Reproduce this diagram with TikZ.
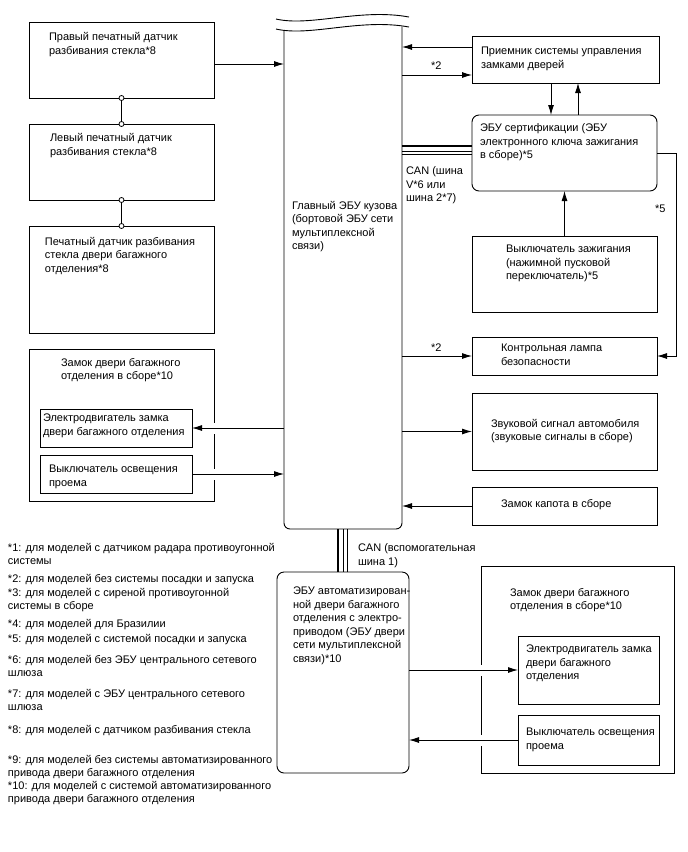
\documentclass[tikz,border=0pt]{standalone}
\usepackage{fontspec}
\setmainfont{Liberation Sans}
\usetikzlibrary{arrows.meta,calc}
\begin{document}
\begin{tikzpicture}[x=1pt,y=-1pt,
  box/.style={draw, line width=0.9pt, anchor=north west, inner sep=0pt, outer sep=0pt},
  rbox/.style={box, rounded corners=7pt},
  inv/.style={anchor=north west, inner sep=0pt, outer sep=0pt},
  txt/.style={anchor=north west, inner sep=0pt, outer sep=0pt, align=left, yshift=-3pt,
    font=\fontsize{11}{13.5}\selectfont, execute at begin node=\strut},
  arr/.style={line width=0.9pt, -{Latex[length=10pt,width=6pt]}},
  ln/.style={line width=0.9pt},
  dot/.style={circle, draw, fill=white, line width=0.8pt, inner sep=0pt, minimum size=5pt},
  gap/.style={draw=white, line width=3pt},
  thickbus/.style={line width=2pt},
  thinbus/.style={line width=0.8pt},
]
\useasboundingbox[fill=white] (0,0) rectangle (688,852);

% ---------- left sensors ----------
\node[box, minimum width=185, minimum height=76] (b1) at (29,22) {};
\node[box, minimum width=185, minimum height=76] (b2) at (29,124) {};
\node[box, minimum width=185, minimum height=107] (b3) at (29,226) {};
\node[txt] (t1) at (49,29.5) {Правый печатный датчик\\разбивания стекла*8};
\node[txt] (t2) at (50,130.5) {Левый печатный датчик\\разбивания стекла*8};
\node[txt] (t3) at (45,234) {Печатный датчик разбивания\\стекла двери багажного\\отделения*8};
\draw[ln] (b1.south) -- (b2.north);
\draw[ln] (b2.south) -- (b3.north);
\node[dot] (d1) at (b1.south) {};
\node[dot] (d2) at (b2.north) {};
\node[dot] (d3) at (b2.south) {};
\node[dot] (d4) at (b3.north) {};

% ---------- main ECU ----------
\node[inv, minimum width=118, minimum height=502] (main) at (284,27) {};
\draw[ln, rounded corners=6pt] (284,30.5) -- (284,529) -- (402,529) -- (402,26.5);
\draw[ln] (276,19) .. controls (310,27) and (360,8) .. (409,17);
\draw[ln] (276,29) .. controls (310,37) and (360,18) .. (409,27);
\node[txt] (tmain) at (292,198) {Главный ЭБУ кузова\\(бортовой ЭБУ сети\\мультиплексной\\связи)};

% ---------- right column ----------
\node[box, minimum width=187, minimum height=47] (rcv) at (472,36) {};
\node[txt] (trcv) at (481,44) {Приемник системы управления\\замками дверей};
\node[rbox, minimum width=185, minimum height=76] (cert) at (472,115) {};
\node[txt] (tcert) at (480,121) {ЭБУ сертификации (ЭБУ\\электронного ключа зажигания\\в сборе)*5};
\node[box, minimum width=185, minimum height=76] (ign) at (472,236) {};
\node[txt] (tign) at (506,242) {Выключатель зажигания\\(нажимной пусковой\\переключатель)*5};
\node[box, minimum width=185, minimum height=38] (lamp) at (472,337) {};
\node[txt] (tlamp) at (501,341) {Контрольная лампа\\безопасности};
\node[box, minimum width=185, minimum height=77] (horn) at (472,393) {};
\node[txt] (thorn) at (491,416) {Звуковой сигнал автомобиля\\(звуковые сигналы в сборе)};
\node[box, minimum width=185, minimum height=38] (hood) at (472,487) {};
\node[txt] (thood) at (501,495) {Замок капота в сборе};

% ---------- left trunk lock ----------
\node[box, minimum width=185, minimum height=152] (trL) at (29,349) {};
\node[txt] (ttrL) at (61,355) {Замок двери багажного\\отделения в сборе*10};
\node[box, minimum width=152, minimum height=38] (motL) at (40,409) {};
\node[txt] (tmotL) at (43,411) {Электродвигатель замка\\двери багажного отделения};
\node[box, minimum width=152, minimum height=38] (swL) at (40,455) {};
\node[txt] (tswL) at (49,462) {Выключатель освещения\\проема};

% ---------- tailgate ECU ----------
\node[rbox, minimum width=132, minimum height=201] (tg) at (277,572) {};
\node[txt] (ttg) at (293,584) {ЭБУ автоматизирован-\\ной двери багажного\\отделения с электро-\\приводом (ЭБУ двери\\сети мультиплексной\\связи)*10};
\node[box, minimum width=193, minimum height=207] (trR) at (481,566) {};
\node[txt] (ttrR) at (510,585) {Замок двери багажного\\отделения в сборе*10};
\node[box, minimum width=141, minimum height=68] (motR) at (518,636) {};
\node[txt] (tmotR) at (526,642) {Электродвигатель замка\\двери багажного\\отделения};
\node[box, minimum width=141, minimum height=50] (swR) at (518,715) {};
\node[txt] (tswR) at (526,725) {Выключатель освещения\\проема};

% ---------- labels ----------
\node[txt] (l2a) at (431,57) {*2};
\node[txt] (l2b) at (431,339) {*2};
\node[txt] (l5) at (655,200) {*5};
\node[txt] (lcan) at (406,164) {CAN (шина\\V*6 или\\шина 2*7)};
\node[txt] (lcan2) at (358,541) {CAN (вспомогательная\\шина 1)};

% ---------- connectors ----------
\draw[arr] ($(b1.east)+(0,4)$) coordinate (a1) -- (a1 -| main.west);
\draw[arr] ($(rcv.west)+(0,-12.5)$) coordinate (a2) -- (a2 -| main.east);
\coordinate (a3) at ($(rcv.west)+(0,15.5)$);
\draw[arr] (a3 -| main.east) -- (a3);
\draw[arr] ($(rcv.south)+(-14.5,0)$) coordinate (a4) -- (a4 |- cert.north);
\draw[arr] ($(cert.north)+(13.5,0)$) coordinate (a5) -- (a5 |- rcv.south);
\draw[arr] (ign.north) -- (cert.south);
\coordinate (r5) at (676,0);
\draw[arr] (cert.east) -- (cert.east -| r5) |- (lamp.east);
\draw[arr] (main.east |- lamp.west) -- (lamp.west);
\draw[arr] (main.east |- horn.west) -- (horn.west);
\draw[arr] (hood.west) -- (hood.west -| main.east);

% gaps in the trunk lock boxes
\draw[gap] ($(trL.east |- motL.east)+(0,-5.5)$) -- ($(trL.east |- motL.east)+(0,5.5)$);
\draw[gap] ($(trL.east |- swL.east)+(0,-5.5)$) -- ($(trL.east |- swL.east)+(0,5.5)$);
\draw[gap] ($(trR.west |- motR.west)+(0,-5.5)$) -- ($(trR.west |- motR.west)+(0,5.5)$);
\draw[gap] ($(trR.west |- swR.west)+(0,-5.5)$) -- ($(trR.west |- swR.west)+(0,5.5)$);

\draw[arr] (main.west |- motL.east) -- (motL.east);
\draw[arr] (swL.east) -- (swL.east -| main.west);
\draw[arr] (tg.east |- motR.west) -- (motR.west);
\draw[arr] (swR.west) -- (swR.west -| tg.east);

% CAN buses
\draw[thickbus] (main.east |- 0,146.2) -- (cert.west |- 0,146.2);
\draw[thinbus] (main.east |- 0,151) -- (cert.west |- 0,151);
\draw[thinbus] (main.east |- 0,154.5) -- (cert.west |- 0,154.5);
\draw[thickbus] (main.south -| 338.2,0) -- (tg.north -| 338.2,0);
\draw[thinbus] (main.south -| 343.5,0) -- (tg.north -| 343.5,0);
\draw[thinbus] (main.south -| 347.5,0) -- (tg.north -| 347.5,0);

% ---------- footnotes ----------
\node[txt] (f1) at (8,540) {*1: для моделей с датчиком радара противоугонной\\системы};
\node[txt] (f2) at (8,570) {*2: для моделей без системы посадки и запуска};
\node[txt] (f3) at (8,585) {*3: для моделей с сиреной противоугонной\\системы в сборе};
\node[txt] (f4) at (8,615) {*4: для моделей для Бразилии};
\node[txt] (f5) at (8,630) {*5: для моделей с системой посадки и запуска};
\node[txt] (f6) at (8,652) {*6: для моделей без ЭБУ центрального сетевого\\шлюза};
\node[txt] (f7) at (8,686) {*7: для моделей с ЭБУ центрального сетевого\\шлюза};
\node[txt] (f8) at (8,721) {*8: для моделей с датчиком разбивания стекла};
\node[txt] (f9) at (8,752) {*9: для моделей без системы автоматизированного\\привода двери багажного отделения};
\node[txt] (f10) at (8,778) {*10: для моделей с системой автоматизированного\\привода двери багажного отделения};
\end{tikzpicture}
\end{document}
